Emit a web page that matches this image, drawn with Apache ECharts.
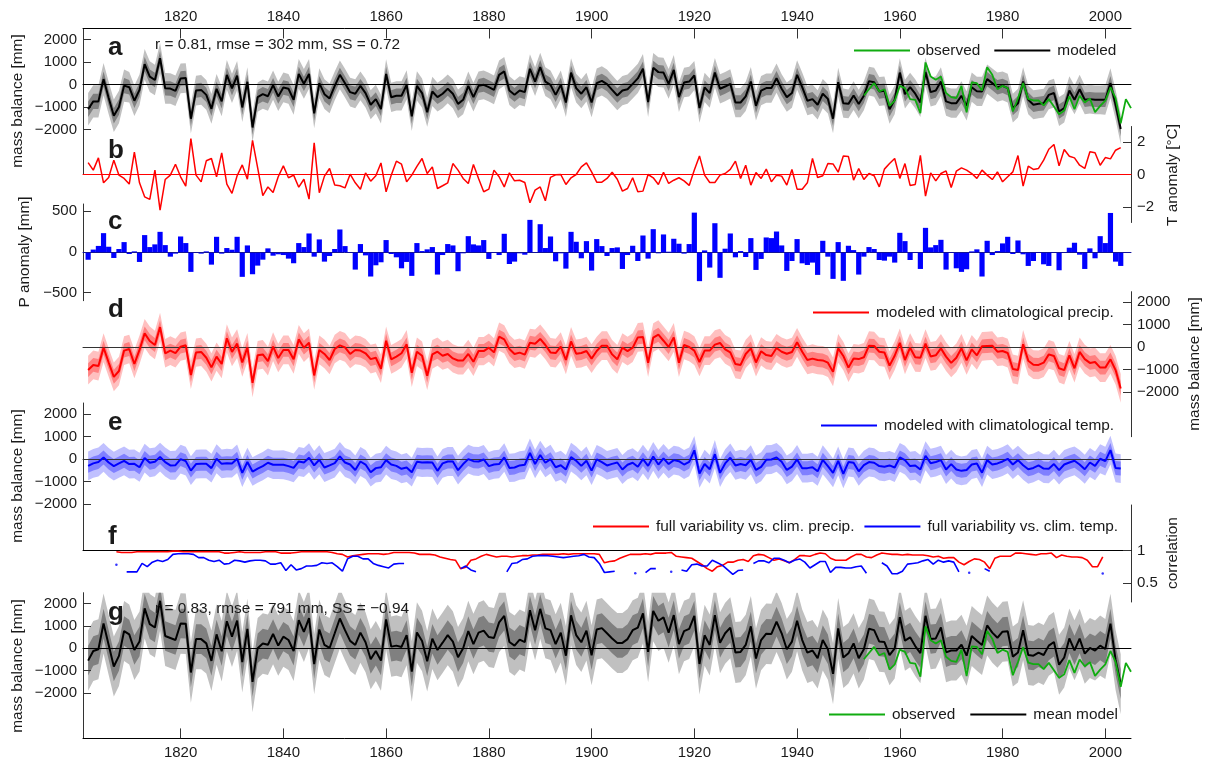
<!DOCTYPE html>
<html>
<head>
<meta charset="utf-8">
<style>html,body{margin:0;padding:0;background:#fff}#chart{width:1206px;height:763px}</style>
<script src="https://cdn.jsdelivr.net/npm/echarts@6/dist/echarts.min.js"></script>
</head>
<body>
<div id="chart"></div>
<script>
// yearly values, one line per decade
var firstYear = 1802;
var massModeled = [
  -1100,-750,-750,240,-600,-1390,-1000,-50,-120,
  -720,-240,900,350,200,1170,-170,-180,-280,270,
  290,-1520,-270,-240,-460,-1080,-190,-750,430,-170,
  390,-1020,120,-1910,-560,-430,-520,-30,-530,-130,
  -190,-680,470,30,470,-1280,60,-430,-620,-60,
  430,60,-340,-410,-60,-380,-900,-650,-1090,470,
  -570,-500,-500,-20,-1420,-60,-380,-1230,-310,-560,
  -410,-190,-410,-860,-680,-60,-560,-60,-15,-120,
  -240,430,580,-270,-460,-270,-340,700,130,770,
  130,-15,-460,-15,-800,530,-160,-410,-120,-800,
  60,160,15,-240,-490,-270,-210,30,270,700,
  -780,740,550,530,30,650,-560,90,130,400,
  -1050,-130,-380,530,-190,-90,30,-800,-800,-530,
  130,-950,-270,-160,-160,280,-190,-560,-380,430,
  -120,-720,-650,-900,-410,-640,-1520,100,-830,-860,
  -490,-870,-500,150,100,-310,-280,-1100,-680,530,
  -430,-120,-410,-800,560,-340,-270,130,-750,-830,
  -830,-500,-950,-120,-300,-310,240,60,-120,-60,
  -160,-1050,-830,130,-680,-900,-860,-830,-460,-380,
  -1200,-1050,-270,-680,-210,-680,-650,-680,-680,-680,
  60,-900,-1980
];
var massObserved = [ // 1953-2005
  -490,-210,60,-310,-210,-950,-720,-60,
  -160,-650,-680,-1270,980,360,210,360,-380,-560,
  -610,-60,-1240,90,60,-270,770,430,-210,-60,
  -160,-1200,-610,60,-640,-710,-710,-930,-650,-980,
  -1320,-1160,-530,-1100,-500,-800,-620,-1230,-950,-720,
  -120,-610,-1720,-650,-1050
];
var tempAnomaly = [
  .73,.27,1.02,-.51,-.18,.88,-.04,-.24,-.59,
  1.37,-.51,-1.37,-1.53,.27,-2.18,-.31,-.04,.63,-.14,
  -.71,2.2,-.04,-.45,.84,.98,-.14,1.33,-.59,-1.16,
  -.08,.59,-.29,2.1,.4,-1.3,-.76,-1.1,-.14,.53,
  -.2,-.04,-.78,-.29,-1.51,1.94,-1.12,-.1,.37,-.65,
  -.69,-.82,.02,-.51,-.9,.1,-.41,-.08,.71,-1.06,
  -.04,.82,.63,-.45,-.04,.5,.98,.06,.47,-.86,
  -.69,-.51,.67,.27,-.24,-.55,.61,-.24,-1.06,-.9,
  .27,-.14,-.76,.1,-.39,-.35,-.49,-1.73,-.96,-.76,
  -1.61,-.18,-.02,0,-.61,-.2,0,.47,.71,.16,
  -.47,-.47,-.24,.14,-.29,-1.02,-.86,-.2,-1.06,-1.02,
  0,-.2,-.61,.14,-.55,-.35,-.2,-.39,-.67,.27,
  1.14,-.04,-.49,-.49,-.04,.06,.31,.82,-.24,.57,
  -.65,.12,-.24,.33,-.45,-.04,-.1,-.65,.31,-.9,
  -.9,-.51,.98,-.18,-.08,.67,.65,.14,1.14,1.1,
  -.35,.37,-.31,.06,-.08,-.76,.33,.67,.98,-.24,
  .67,-.67,-.61,1.18,-1.33,.1,-.39,.06,.22,-.8,
  .2,.41,.27,.06,-.24,.27,-.04,-.31,.16,-.45,
  -.14,.16,1.16,-.71,.51,.31,.37,.88,1.55,1.84,
  .53,1.53,1.12,1.02,.57,.37,1.39,1.33,.57,1.04,
  .96,1.49,1.65
];
var precipAnomaly = [
  -95,30,75,232,65,-73,37,122,-24,
  8,-122,208,61,94,248,85,-57,-20,191,
  110,-244,-4,-20,8,-155,187,-20,49,28,
  187,-305,81,-273,-167,-94,45,-45,-28,-37,
  -81,-138,110,61,228,-57,155,-118,-49,37,
  277,73,0,-216,98,-41,-301,-163,-126,147,
  -24,-65,-200,-122,-293,110,12,33,61,-277,
  -37,98,81,-236,-16,195,94,81,147,-85,
  -5,-37,224,-147,-118,-16,-33,395,-8,342,
  49,191,-114,-16,-204,248,126,-77,134,-228,
  159,73,-49,49,57,-208,-37,77,-110,203,
  -81,281,-16,216,4,163,102,-20,98,484,
  -358,20,-191,354,-317,41,228,-65,12,-61,
  171,-220,-85,179,171,252,81,-232,-110,159,
  -139,-159,-130,-281,138,-57,-330,122,-354,77,
  24,-277,-57,61,37,-98,-106,-57,-130,236,
  134,-98,-4,-208,297,57,85,150,-216,0,
  -200,-244,-212,8,33,-301,138,-37,12,106,
  187,-24,142,-28,-171,-110,0,-151,-171,0,
  -224,0,53,114,-33,-208,45,-77,195,110,
  480,-118,-171
];
var massNoPrecip = [
  -1030,-800,-850,-30,-690,-1330,-1070,-160,-90,
  -760,-130,610,270,90,890,-280,-160,-270,15,
  75,-1250,-250,-220,-480,-910,-430,-760,390,-220,
  150,-690,-15,-1600,-370,-330,-630,15,-490,-130,
  -130,-550,340,-30,190,-1270,-130,-310,-580,-90,
  75,-15,-310,-130,-160,-280,-540,-480,-970,280,
  -550,-430,-280,120,-1150,-210,-390,-1280,-330,-210,
  -390,-310,-510,-600,-600,-310,-660,-180,-180,-30,
  -240,460,340,-90,-310,-250,-340,190,150,360,
  90,-240,-270,15,-580,250,-300,-270,-180,-520,
  -180,60,60,-330,-550,-30,-180,-30,430,450,
  -700,420,550,280,0,430,-700,90,0,-160,
  -670,-160,-160,105,180,-105,-240,-760,-800,-310,
  -60,-690,-190,-360,-400,-45,-210,-300,-220,210,
  -210,-580,-520,-580,-600,-700,-1110,-60,-400,-920,
  -510,-540,-460,60,45,-210,-240,-830,-390,190,
  -580,-30,-460,-480,150,-420,-370,-60,-430,-710,
  -480,-60,-600,-105,-370,30,45,60,-210,-180,
  -270,-980,-1030,120,-610,-790,-800,-700,-330,-400,
  -950,-1030,-370,-950,-220,-540,-710,-670,-920,-920,
  -550,-1030,-1850
];
var massNoTemp = [
  -300,-190,-130,75,-150,-310,-190,-75,-220,
  -210,-360,45,-160,-120,90,-130,-280,-270,0,
  -90,-510,-220,-210,-210,-400,15,-210,-180,-190,
  15,-610,-130,-550,-420,-310,-160,-250,-250,-250,
  -310,-390,-105,-150,60,-280,-30,-370,-280,-180,
  120,-150,-240,-480,-105,-240,-580,-400,-360,-45,
  -240,-300,-430,-370,-580,-120,-150,-140,-150,-520,
  -190,-105,-105,-490,-220,0,-90,-105,-15,-310,
  -240,-220,75,-390,-370,-280,-250,280,-220,180,
  -160,0,-360,-270,-460,90,-75,-300,-75,-510,
  -15,-130,-280,-210,-150,-460,-250,-160,-340,0,
  -300,120,-240,30,-220,-45,-90,-240,-120,390,
  -640,-220,-450,220,-610,-190,60,-280,-220,-270,
  -30,-480,-340,-30,-15,75,-120,-480,-330,-15,
  -400,-400,-360,-540,-30,-310,-610,-75,-650,-130,
  -160,-540,-270,-130,-160,-310,-340,-280,-370,75,
  -45,-310,-280,-460,150,-180,-130,-45,-460,-220,
  -460,-520,-480,-240,-190,-600,-45,-240,-190,-105,
  15,-240,-45,-270,-450,-390,-280,-420,-430,-220,
  -490,-240,-150,-75,-240,-450,-150,-300,15,-90,
  400,-390,-420
];
var corrFirstYear = 1807.5;
var corrNoPrecip = [ // 1807.5-1999.5, 21-year running correlation
  .98,.97,.97,.97,.98,.98,.98,.98,.98,.98,
  .98,.99,.99,.98,.98,.98,.98,.98,.98,.98,
  .98,.96,.96,.97,.98,.97,.97,.97,.97,.98,
  .98,.98,.96,.96,.96,.97,.98,.98,.98,.98,
  .98,.98,.97,.95,.94,.90,.92,.93,.94,.95,
  .95,.95,.94,.95,.97,.97,
  .97,.97,.96,.94,.94,.94,.93,.90,.88,.86,
  .85,.72,.74,.85,.87,.91,.94,.92,.90,.91,
  .91,.90,.91,.92,.92,.93,.93,.94,.94,.94,
  .94,.95,.94,.95,.95,.95,.95,.95,.94,.81,
  .83,.84,.88,.91,.94,.94,.94,.95,.94,.96,
  .96,.96,.97,.91,.90,.89,.88,.83,.78,.72,
  .68,.75,.77,.82,.82,.85,.86,.83,.92,.94,
  .93,.89,.85,.87,.84,.81,.86,.92,
  .92,.91,.94,.96,.95,.88,.85,.85,.85,.90,
  .94,.94,.90,.89,.93,.96,.95,.94,.94,.93,
  .94,.93,.93,.93,.92,.90,.91,.88,.89,.89,
  .82,.78,.83,.87,.86,.82,.72,.88,.91,.91,
  .91,.96,.96,.95,.94,.93,.95,.95,.96,.89,
  .93,.91,.90,.90,.89,.85,.75,.75,.90
];
var corrNoTemp = [ // same years; gaps where the curve leaves the panel
  null,null,
  .67,.67,.67,.80,.75,.82,.85,.83,.86,.94,
  .95,.95,.95,.94,.89,.89,.85,.83,.85,.79,
  .80,.85,.84,.82,.84,.85,.85,.84,.79,.79,
  .81,.69,.78,.70,.72,.76,.76,.77,.81,.80,
  .81,.75,.68,.87,.91,.91,.87,.87,.80,.77,
  .75,.73,.79,.80,.80,
  null,null,null,null,null,null,null,null,null,null,
  .72,.76,.70,.67,
  null,null,null,null,null,
  .67,.80,.81,.86,.87,.91,.92,.92,.92,.91,
  .90,.89,.90,.91,.92,.94,.90,.89,.80,.66,
  .67,.68,
  null,null,null,null,null,
  .66,.72,.72,
  null,null,null,null,
  .70,.68,.78,.79,.76,.76,.85,.81,.77,.70,
  .63,.69,.70,
  null,
  .80,.84,.84,.81,.88,.88,.85,.81,.85,.87,
  .82,.73,.78,.83,.83,.66,.74,.74,.73,.73,
  .75,.76,.65,
  null,null,
  .81,.76,.64,.64,.68,.79,.80,.81,.84,.86,
  .79,.85,.82,.84,.82,.67,
  null,null,null,null,
  .72,.68,
  null,null,null,null,null,null,null,null,null,null,null,
  null,null,null,null,null,null,null,null,null,null,null
];
var corrNoTempDotYears = [1807.5, 1908.5, 1915.5, 1973.5, 1999.5];
var corrNoTempDots = [.78, .65, .67, .655, .645];
var massFull = [
  -550,-120,-45,1110,150,-810,-340,770,620,
  -75,300,1780,1080,930,2120,550,460,370,1110,
  1100,-1080,410,410,220,-560,620,-130,1210,520,
  1240,-620,870,-1500,0,210,160,640,120,520,
  370,-120,1260,730,1350,-710,840,150,15,670,
  1330,810,330,150,700,270,-490,-120,-550,1290,
  75,120,60,590,-1040,710,330,-580,430,-75,
  250,590,300,-400,0,770,190,700,790,500,
  460,1160,1450,280,120,390,280,1700,810,1760,
  890,810,190,700,-330,1470,590,270,790,-310,
  840,900,670,440,240,240,410,810,920,1560,
  -160,1670,1230,1380,700,1480,190,770,870,1450,
  -700,580,150,1480,250,670,920,-190,-160,150,
  980,-460,370,650,640,1190,670,-45,300,1230,
  370,-190,-100,-440,370,-45,-1140,890,-410,-220,
  220,-440,-45,870,810,300,280,-300,0,1390,
  340,490,100,-220,1450,410,440,930,-180,-100,
  -100,160,-330,550,340,150,1020,700,470,740,
  760,-370,-190,810,-300,-330,-190,-300,120,280,
  -730,-410,440,-90,430,-240,15,-100,120,-30,
  1100,-520,-1600
];
// half-widths of the shaded ranges, one value per decade 1800s..2000s
var aOuter = [720,680,660,650,660,640,650,640,640,640,650,660,650,650,650,640,640,650,640,640,660];
var aInner = [340,320,320,320,320,310,320,310,310,320,320,320,320,320,320,320,320,320,320,320,320];
var dOuter = [640,640,630,640,640,640,640,630,630,640,640,640,640,630,640,640,640,640,640,640,640];
var dInner = [310,310,310,310,310,310,310,310,310,310,310,310,310,310,310,310,310,310,310,310,310];
var eOuter = [640,640,640,630,640,640,640,640,630,640,640,640,630,640,640,640,640,640,640,640,640];
var eInner = [310,310,310,310,310,310,310,310,310,310,310,310,310,310,310,310,310,310,310,310,310];
var gOuter = [1340,1340,1350,1350,1340,1340,1350,1350,1340,1330,1340,1350,1360,1350,1360,1350,1340,1340,1340,1340,1340];
var gInner = [660,660,660,660,650,650,660,660,650,650,660,660,670,660,660,660,650,650,650,650,660];

var xTicks = [1820,1840,1860,1880,1900,1920,1940,1960,1980,2000];
var massTicks = [-2000,-1000,0,1000,2000];
var tempTicks = [-2,0,2];
var precipTicks = [-500,0,500];
var corrTicks = [0.5,1];

var FONT = '"Liberation Sans", Arial, sans-serif';
var INK = '#1a1a1a';
var SPINE = '#333';

function toPairs(start, values) {
  return values.map(function (v, i) { return [start + i, v]; });
}
function minusSign(v) { return String(v).replace('-', '\u2212'); }

var grids = [], xAxes = [], yAxes = [], series = [];

function addPanel(top, bottom, yMin, yMax, ticks, side) {
  var idx = grids.length;
  grids.push({ left: 83, width: 1048, top: top, height: bottom - top });
  yAxes.push({
    gridIndex: idx, type: 'value', position: side, min: yMin, max: yMax,
    splitLine: { show: false }, z: 2,
    axisLine: { show: true, onZero: false, lineStyle: { color: SPINE } },
    axisTick: { show: true, inside: true, length: 8, customValues: ticks, lineStyle: { color: SPINE } },
    axisLabel: { inside: false, margin: 6, customValues: ticks, formatter: minusSign, fontFamily: FONT, fontSize: 15, color: INK }
  });
  return idx;
}
// x axis drawn as the horizontal line through y = 0
function addZeroAxis(grid, color) {
  xAxes.push({
    gridIndex: grid, type: 'value', position: 'bottom', min: 1801, max: 2005, z: 3,
    splitLine: { show: false }, axisTick: { show: false }, axisLabel: { show: false },
    axisLine: { show: true, onZero: true, lineStyle: { color: color, width: 1 } }
  });
  return xAxes.length - 1;
}
// year axis along a panel edge
function addEdgeAxis(grid, pos, labelled) {
  xAxes.push({
    gridIndex: grid, type: 'value', position: pos, min: 1801, max: 2005, z: 2,
    splitLine: { show: false },
    axisLine: { show: true, onZero: false, lineStyle: { color: '#000' } },
    axisTick: { show: labelled, inside: true, length: 10, customValues: xTicks, lineStyle: { color: SPINE } },
    axisLabel: {
      show: labelled, customValues: xTicks, margin: pos === 'top' ? 4 : 7,
      formatter: function (v) { return String(v); }, fontFamily: FONT, fontSize: 15, color: INK
    }
  });
}
// shaded range, mean +- half-width for the decade, as one polygon through the axes
function addRange(grid, xIndex, mean, half, color) {
  var rows = mean.map(function (v, i) {
    var year = firstYear + i;
    var w = half[Math.floor((year - 1800) / 10)];
    return [year, v - w, v + w];
  });
  series.push({
    type: 'custom', xAxisIndex: xIndex, yAxisIndex: grid, z: 1, silent: true, clip: true,
    encode: { x: 0, y: [1, 2] },
    data: rows,
    renderItem: function (params, api) {
      if (params.dataIndex !== 0) return null;
      var upper = rows.map(function (r) { return api.coord([r[0], r[2]]); });
      var lower = rows.map(function (r) { return api.coord([r[0], r[1]]); }).reverse();
      return {
        type: 'polygon', transition: [],
        shape: { points: upper.concat(lower) },
        style: { fill: color, stroke: null }
      };
    }
  });
}
function addLine(grid, xIndex, name, data, color, width, z) {
  series.push({
    name: name, type: 'line', xAxisIndex: xIndex, yAxisIndex: grid, z: z || 4,
    showSymbol: false, connectNulls: false, color: color,
    itemStyle: { color: color }, lineStyle: { color: color, width: width },
    data: data
  });
}

// a: modeled vs observed
var pa = addPanel(28.5, 174.5, -4000, 2489, massTicks, 'left');
var xa = addZeroAxis(pa, '#000');
addEdgeAxis(pa, 'top', true);
addRange(pa, xa, massModeled, aOuter, '#c0c0c0');
addRange(pa, xa, massModeled, aInner, '#808080');
addLine(pa, xa, 'modeled', toPairs(firstYear, massModeled), '#000', 2, 4);
addLine(pa, xa, 'observed', toPairs(1953, massObserved), '#10ac10', 1.8, 5);

// b: temperature anomaly
var pb = addPanel(126.5, 222.5, -2.945, 2.945, tempTicks, 'right');
var xb = addZeroAxis(pb, '#ff0000');
addLine(pb, xb, 'T anomaly', toPairs(firstYear, tempAnomaly), '#ff0000', 1.5, 4);

// c: precipitation anomaly
var pc = addPanel(204, 300.7, -598, 590, precipTicks, 'left');
var xc = addZeroAxis(pc, '#12129a');
series.push({
  name: 'P anomaly', type: 'bar', xAxisIndex: xc, yAxisIndex: pc, barWidth: 5.2, z: 2,
  itemStyle: { color: '#0000ff' }, data: toPairs(firstYear, precipAnomaly)
});

// d: climatological precipitation
var pd = addPanel(291.7, 436.7, -4004, 2469, massTicks, 'right');
var xd = addZeroAxis(pd, '#333');
addRange(pd, xd, massNoPrecip, dOuter, '#ffc0c0');
addRange(pd, xd, massNoPrecip, dInner, '#ff8080');
addLine(pd, xd, 'modeled with climatological precip.', toPairs(firstYear, massNoPrecip), '#ff0000', 2, 4);

// e: climatological temperature
var pe = addPanel(403, 549.8, -4022, 2489, massTicks, 'left');
var xe = addZeroAxis(pe, '#333');
addEdgeAxis(pe, 'bottom', false);
addRange(pe, xe, massNoTemp, eOuter, '#c0c0ff');
addRange(pe, xe, massNoTemp, eInner, '#8080ff');
addLine(pe, xe, 'modeled with climatological temp.', toPairs(firstYear, massNoTemp), '#0000ff', 2, 4);

// f: running correlations
var pf = addPanel(505, 602, 0.205, 1.702, corrTicks, 'right');
addEdgeAxis(pf, 'bottom', false);
var xf = xAxes.length - 1;
xAxes[xf].axisLine.show = false;
addLine(pf, xf, 'full variability vs. clim. precip.', toPairs(corrFirstYear, corrNoPrecip), '#ff0000', 1.6, 4);
addLine(pf, xf, 'full variability vs. clim. temp.', toPairs(corrFirstYear, corrNoTemp), '#0000ff', 1.6, 4);
series.push({
  type: 'scatter', xAxisIndex: xf, yAxisIndex: pf, symbolSize: 2.5, z: 4, silent: true,
  itemStyle: { color: '#0000ff' },
  data: corrNoTempDotYears.map(function (y, i) { return [y, corrNoTempDots[i]]; })
});

// g: full model
var pg = addPanel(592.7, 738.4, -4022, 2482, massTicks, 'left');
var xg = addZeroAxis(pg, '#000');
addEdgeAxis(pg, 'bottom', true);
addRange(pg, xg, massFull, gOuter, '#c0c0c0');
addRange(pg, xg, massFull, gInner, '#808080');
addLine(pg, xg, 'mean model', toPairs(firstYear, massFull), '#000', 2, 4);
addLine(pg, xg, 'observed', toPairs(1953, massObserved), '#10ac10', 1.8, 5);

function legendAt(left, top, names, gap) {
  return {
    left: left, top: top, data: names, orient: 'horizontal', itemWidth: 56, itemHeight: 2, itemGap: gap,
    icon: 'rect', selectedMode: false, padding: 0,
    textStyle: { fontFamily: FONT, fontSize: 15.4, color: INK, padding: [0, 0, 0, 2] }
  };
}
var legends = [
  legendAt(854, 43, ['observed', 'modeled'], 14),
  legendAt(813, 305, ['modeled with climatological precip.'], 0),
  legendAt(821, 418, ['modeled with climatological temp.'], 0),
  legendAt(593, 519, ['full variability vs. clim. precip.', 'full variability vs. clim. temp.'], 10),
  legendAt(829, 707, ['observed', 'mean model'], 15)
];

function label(text, x, y, size, weight, rotated) {
  return {
    type: 'text', x: x, y: y, rotation: rotated ? Math.PI / 2 : 0, z: 20, silent: true,
    style: {
      text: text, fill: INK, font: (weight || 'normal') + ' ' + size + 'px ' + FONT,
      textAlign: rotated ? 'center' : 'left', textVerticalAlign: 'middle'
    }
  };
}
var texts = [
  label('a', 108, 48, 26, 'bold'), label('b', 108, 151, 26, 'bold'), label('c', 108, 222, 26, 'bold'),
  label('d', 108, 310, 26, 'bold'), label('e', 108, 423, 26, 'bold'), label('f', 108, 537, 26, 'bold'),
  label('g', 108, 613, 26, 'bold'),
  label('r = 0.81, rmse = 302 mm, SS = 0.72', 155, 45, 15.4),
  label('r = 0.83, rmse = 791 mm, SS = \u22120.94', 155, 609, 15.4),
  label('mass balance [mm]', 18, 101, 15.4, null, true),
  label('T anomaly [\u00B0C]', 1173, 175, 15.4, null, true),
  label('P anomaly [mm]', 25, 252, 15.4, null, true),
  label('mass balance [mm]', 1195, 364, 15.4, null, true),
  label('mass balance [mm]', 18, 476, 15.4, null, true),
  label('correlation', 1173, 553, 15.4, null, true),
  label('mass balance [mm]', 18, 666, 15.4, null, true)
];

var chart = echarts.init(document.getElementById('chart'));
chart.setOption({
  animation: false,
  backgroundColor: '#fff',
  textStyle: { fontFamily: FONT },
  grid: grids, xAxis: xAxes, yAxis: yAxes, series: series,
  legend: legends,
  graphic: { elements: texts }
});
</script>
</body>
</html>
